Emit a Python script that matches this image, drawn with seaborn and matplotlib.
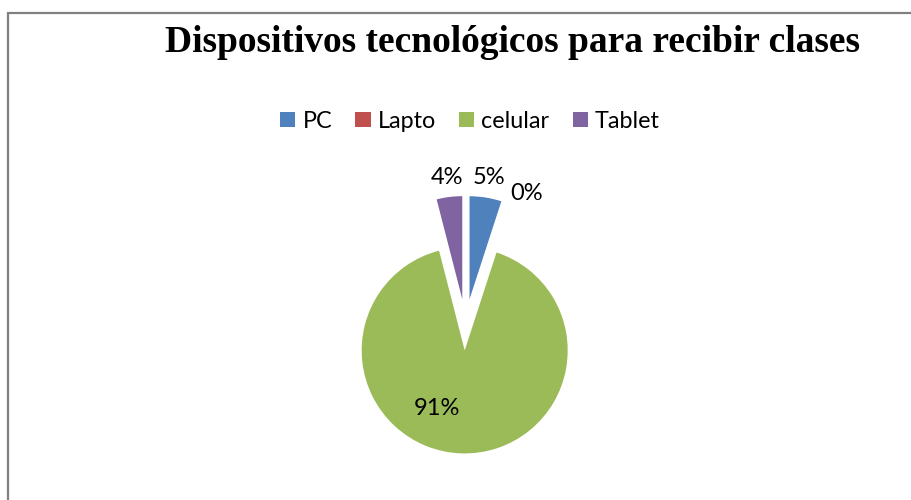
import numpy as np
import matplotlib
matplotlib.use("Agg")
import matplotlib.pyplot as plt
import seaborn as sns
from matplotlib.patches import Rectangle

# datos del gráfico
categorias = ["PC", "Lapto", "celular", "Tablet"]
porcentajes = [5, 0, 91, 4]
colores = ["#4F81BD", "#C0504D", "#9BBB59", "#8064A2"]
titulo = "Dispositivos tecnológicos para recibir clases"

sns.set_theme(style="white")
plt.rcParams['font.family'] = ['Lato', 'DejaVu Sans']
plt.rcParams['text.color'] = 'black'

W, H = 911, 500
R = 103.0            # radio del pie en px
CX, CY = 465.5, 324.7  # centro (px desde arriba-izquierda)

fig = plt.figure(figsize=(W / 100, H / 100), dpi=100)
fig.patch.set_facecolor("white")

# marco gris (solo se ven borde izquierdo y superior)
fig.add_artist(Rectangle((7.5 / W, -0.5), 2.0, 1.5 - 13 / H,
                         transform=fig.transFigure, fill=False,
                         edgecolor="#808080", linewidth=1.6, zorder=0))

ax = fig.add_axes([0, 0, 1, 1])
ax.patch.set_alpha(0)
wedges, _ = ax.pie(porcentajes, colors=colores, explode=[0.25] * 4,
                   startangle=90, counterclock=False, radius=1,
                   wedgeprops=dict(linewidth=0))
ax.set_xlim(-CX / R, (W - CX) / R)
ax.set_ylim(-(H - CY) / R, CY / R)
ax.set_aspect("auto")
ax.axis("off")

# etiquetas de porcentaje
label_dist = [1.45, 1.41, 0.855, 1.44]
label_shift = [0, -7, -17, 0]
for w, v, d, s in zip(wedges, porcentajes, label_dist, label_shift):
    ang = np.deg2rad((w.theta1 + w.theta2) / 2 + s)
    ax.text(d * np.cos(ang), d * np.sin(ang), f"{v}%", ha="center",
            va="center", fontsize=17, color="black")

fig.text(512.5 / W, 1 - 52 / H, titulo, ha="center", va="baseline",
         fontsize=27, fontweight="bold", family="Liberation Serif",
         color="black")

fig.legend(wedges, categorias, loc="center", ncol=4, frameon=False,
           bbox_to_anchor=(470 / W, 1 - 121 / H), fontsize=16.8,
           handlelength=0.65, handleheight=0.65, handletextpad=0.3,
           columnspacing=1.0, borderaxespad=0)

fig.savefig("out.png", dpi=100)
